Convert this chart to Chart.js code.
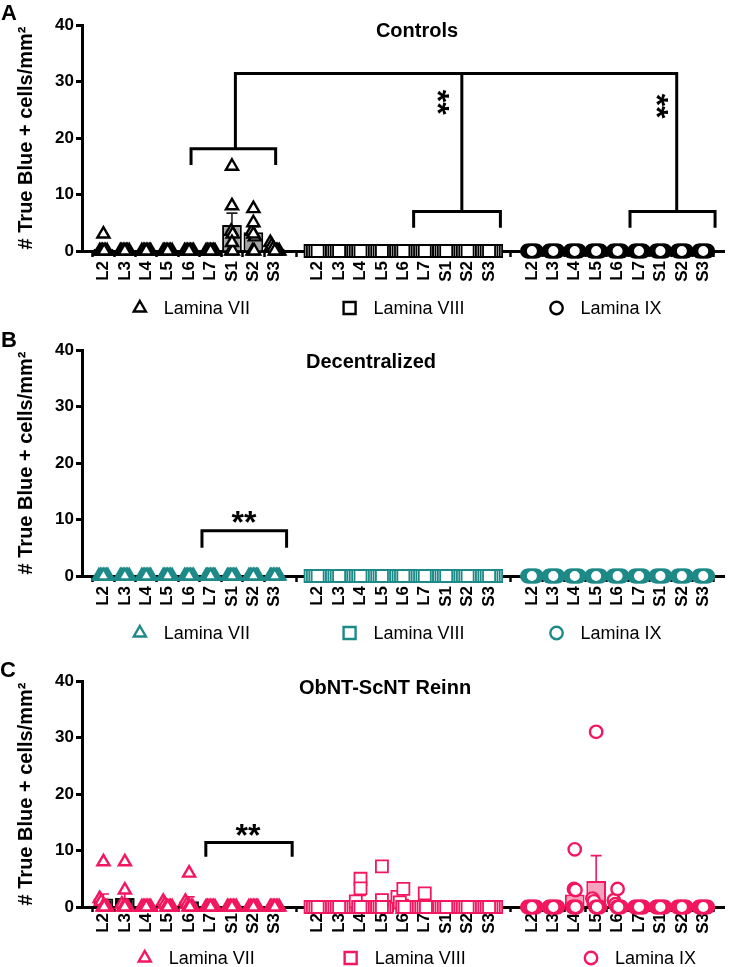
<!DOCTYPE html>
<html>
<head>
<meta charset="utf-8">
<script src="https://cdn.jsdelivr.net/npm/chart.js@4.4.1/dist/chart.umd.min.js"></script>
<style>
html,body{margin:0;padding:0;background:#fff;}
#wrap{position:relative;width:735px;height:967px;overflow:hidden;font-family:"Liberation Sans",Arial,sans-serif;}
canvas{position:absolute;left:0;}
.txt{position:absolute;font-weight:bold;color:#000;white-space:nowrap;line-height:1;transform:translate(-50%,-50%);}
</style>
</head>
<body>
<div id="wrap">
  <canvas id="cA" width="735" height="325" style="top:0px"></canvas>
  <canvas id="cB" width="735" height="331" style="top:325px"></canvas>
  <canvas id="cC" width="735" height="311" style="top:656px"></canvas>
</div>
<script>
// ---------------- DATA ----------------
const categories = ['L2','L3','L4','L5','L6','L7','S1','S2','S3'];
const laminae = ['Lamina VII','Lamina VIII','Lamina IX'];
const yTicks = [0,10,20,30,40];
const yTitle = '# True Blue + cells/mm\u00B2';
const panelTitles = ['Controls','Decentralized','ObNT-ScNT Reinn'];
const panelLetters = ['A','B','C'];

// Panel A – Controls (individual values per segment, bar means, SEM)
const ctrlVIIPoints = [
  [3,0,0,0,0,0,0],[0,0,0,0,0,0,0],[0,0,0,0,0,0,0],[0,0,0,0,0,0,0],[0,0,0,0,0,0,0],[0,0,0,0,0,0,0],
  [15,8,3.5,3,1.5,0,0],[7.5,5,3.5,3,2.5,0,0],[1.5,1,0.5,0,0,0,0]
];
const ctrlVIIMeans = [0.4,0,0,0,0,0,4.6,3.3,0.4];
const ctrlVIISem   = [0.4,0,0,0,0,0,2.1,1.0,0.2];
const ctrlVIIIPoints = [
  [0,0,0,0,0,0,0],[0,0,0,0,0,0,0],[0,0,0,0,0,0,0],[0,0,0,0,0,0,0],[0,0,0,0,0,0,0],[0,0,0,0,0,0,0],
  [0,0,0,0,0,0,0],[0,0,0,0,0,0,0],[0,0,0,0,0,0,0]
];
const ctrlVIIIMeans = [0,0,0,0,0,0,0,0,0];
const ctrlVIIISem   = [0,0,0,0,0,0,0,0,0];
const ctrlIXPoints = [
  [0,0,0,0,0,0,0],[0,0,0,0,0,0,0],[0,0,0,0,0,0,0],[0,0,0,0,0,0,0],[0,0,0,0,0,0,0],[0,0,0,0,0,0,0],
  [0,0,0,0,0,0,0],[0,0,0,0,0,0,0],[0,0,0,0,0,0,0]
];
const ctrlIXMeans = [0,0,0,0,0,0,0,0,0];
const ctrlIXSem   = [0,0,0,0,0,0,0,0,0];

// Panel B – Decentralized
const decVIIPoints = [
  [0,0,0,0,0,0,0],[0,0,0,0,0,0,0],[0,0,0,0,0,0,0],[0,0,0,0,0,0,0],[0,0,0,0,0,0,0],[0,0,0,0,0,0,0],
  [0,0,0,0,0,0,0],[0,0,0,0,0,0,0],[0,0,0,0,0,0,0]
];
const decVIIMeans = [0,0,0,0,0,0,0,0,0];
const decVIISem   = [0,0,0,0,0,0,0,0,0];
const decVIIIPoints = [
  [0,0,0,0,0,0,0],[0,0,0,0,0,0,0],[0,0,0,0,0,0,0],[0,0,0,0,0,0,0],[0,0,0,0,0,0,0],[0,0,0,0,0,0,0],
  [0,0,0,0,0,0,0],[0,0,0,0,0,0,0],[0,0,0,0,0,0,0]
];
const decVIIIMeans = [0,0,0,0,0,0,0,0,0];
const decVIIISem   = [0,0,0,0,0,0,0,0,0];
const decIXPoints = [
  [0,0,0,0,0,0,0],[0,0,0,0,0,0,0],[0,0,0,0,0,0,0],[0,0,0,0,0,0,0],[0,0,0,0,0,0,0],[0,0,0,0,0,0,0],
  [0,0,0,0,0,0,0],[0,0,0,0,0,0,0],[0,0,0,0,0,0,0]
];
const decIXMeans = [0,0,0,0,0,0,0,0,0];
const decIXSem   = [0,0,0,0,0,0,0,0,0];

// Panel C – ObNT-ScNT Reinn
const reinnVIIPoints = [
  [8,1.5,1,0,0,0,0],[8,3,0.5,0,0,0,0],[0,0,0,0,0,0,0],[1,0.5,0,0,0,0,0],[6,1,0.5,0,0,0,0],[0,0,0,0,0,0,0],
  [0,0,0,0,0,0,0],[0,0,0,0,0,0,0],[0,0,0,0,0,0,0]
];
const reinnVIIMeans = [1.5,1.6,0,0.2,1.0,0,0,0,0];
const reinnVIISem   = [0.8,1.1,0,0.15,0.8,0,0,0,0];
const reinnVIIIPoints = [
  [0,0,0,0,0,0,0],[0,0,0,0,0,0,0],[5,3.3,1,0,0,0,0],[7.2,1.2,0,0,0,0,0],[3.2,1.8,0.8,0,0,0,0],[2.4,0,0,0,0,0,0],
  [0,0,0,0,0,0,0],[0,0,0,0,0,0,0],[0,0,0,0,0,0,0]
];
const reinnVIIIMeans = [0,0,1.3,1.2,0.8,0.35,0,0,0];
const reinnVIIISem   = [0,0,0.75,1.0,0.5,0.35,0,0,0];
const reinnIXPoints = [
  [0,0,0,0,0,0,0],[0,0,0,0,0,0,0],[10.2,3.2,3,0,0,0,0],[31,1.5,1,0,0,0,0],[3.2,1.2,0.5,0,0,0,0],[0,0,0,0,0,0,0],
  [0,0,0,0,0,0,0],[0,0,0,0,0,0,0],[0,0,0,0,0,0,0]
];
const reinnIXMeans = [0,0,2.2,4.6,0.7,0,0,0,0];
const reinnIXSem   = [0,0,1.4,4.5,0.45,0,0,0,0];

// ---------------- STYLE / LAYOUT ----------------
const FONT = '"Liberation Sans", Arial, Helvetica, sans-serif';
Chart.defaults.font.family = FONT;
Chart.defaults.color = '#000';

const markerStyles = ['triangle','rect','circle'];
const markerRadii = [7, 8.5, 6.2];
const markerBorders = [2.4, 1.8, 2.4];
const markerSpread = [0.07, 0.11, 0.07];

const panels = [
  {
    canvas: 'cA', letter: panelLetters[0], title: panelTitles[0],
    top: 0, xh: 74, legendY: 308, legendX: [2.70, 12.49, 22.15],
    titlePos: [417, 30], letterPos: [9, 13],
    stroke: '#000000', barFill: ['#a4a4a4','#a4a4a4','#a4a4a4'], barBorder: ['#000','#000','#000'], err: '#222',
    series: [
      {points: ctrlVIIPoints, means: ctrlVIIMeans, sem: ctrlVIISem},
      {points: ctrlVIIIPoints, means: ctrlVIIIMeans, sem: ctrlVIIISem},
      {points: ctrlIXPoints, means: ctrlIXMeans, sem: ctrlIXSem}
    ],
    brackets: [
      [[5.09,15.2],[5.09,18.1],[9.04,18.1],[9.04,15.2]],
      [[7.16,18.1],[7.16,31.4],[27.76,31.4],[27.76,7.0]],
      [[17.73,31.4],[17.73,7.0]],
      [[15.48,4.1],[15.48,7.0],[19.53,7.0],[19.53,4.1]],
      [[25.58,4.1],[25.58,7.0],[29.55,7.0],[29.55,4.1]]
    ],
    stars: [{x:16.87, y:26.3, rot:Math.PI/2}, {x:27.07, y:25.6, rot:Math.PI/2}],
    tickPad: 4, tickLen: 6
  },
  {
    canvas: 'cB', letter: panelLetters[1], title: panelTitles[1],
    top: 325, xh: 80, legendY: 308, legendX: [2.70, 12.49, 22.15],
    titlePos: [371, 36], letterPos: [9, 15],
    stroke: '#1d8a88', barFill: ['#8cc9c7','#8cc9c7','#8cc9c7'], barBorder: ['#1d8a88','#1d8a88','#1d8a88'], err: '#1d8a88',
    series: [
      {points: decVIIPoints, means: decVIIMeans, sem: decVIISem},
      {points: decVIIIPoints, means: decVIIIMeans, sem: decVIIISem},
      {points: decIXPoints, means: decIXMeans, sem: decIXSem}
    ],
    brackets: [
      [[5.6,5.0],[5.6,8.0],[9.55,8.0],[9.55,5.0]]
    ],
    stars: [{x:7.57, y:10.4, rot:0}],
    tickPad: 4, tickLen: 6
  },
  {
    canvas: 'cC', letter: panelLetters[2], title: panelTitles[2],
    top: 656, xh: 60, legendY: 302, legendX: [2.93, 12.54, 23.76],
    titlePos: [385, 31], letterPos: [8, 14],
    stroke: '#f2175f', barFill: ['#111111','#f9b8cd','#f7a3bf'], barBorder: ['#111111','#f2175f','#f2175f'], err: '#f2175f',
    series: [
      {points: reinnVIIPoints, means: reinnVIIMeans, sem: reinnVIISem},
      {points: reinnVIIIPoints, means: reinnVIIIMeans, sem: reinnVIIISem},
      {points: reinnIXPoints, means: reinnIXMeans, sem: reinnIXSem}
    ],
    brackets: [
      [[5.78,8.9],[5.78,11.4],[9.81,11.4],[9.81,8.9]]
    ],
    stars: [{x:7.76, y:13.6, rot:0}],
    tickPad: 1, tickLen: 5
  }
];

// tick positions: three groups of segments separated by one empty slot
const tickValues = [];
laminae.forEach((_, g) => categories.forEach((_, i) => tickValues.push(g * 10 + 1 + i)));
function tickLabel(v) {
  const r = Math.round(v) % 10;
  return r === 0 ? '' : categories[r - 1];
}

// fan out overlapping markers horizontally (category units)
function spreadOffsets(values, step) {
  const order = values.map((v, i) => i).sort((a, b) => values[b] - values[a]);
  const off = new Array(values.length).fill(0);
  let cluster = [];
  const flush = () => {
    const m = cluster.length;
    cluster.forEach((k, j) => { off[k] = (j - (m - 1) / 2) * step; });
    cluster = [];
  };
  order.forEach(k => {
    if (cluster.length && values[cluster[cluster.length - 1]] - values[k] > 1.0) flush();
    cluster.push(k);
  });
  flush();
  return off;
}

function drawMarker(ctx, style, x, y, color) {
  ctx.save();
  ctx.lineWidth = 2.4; ctx.strokeStyle = color; ctx.fillStyle = '#fff';
  ctx.beginPath();
  if (style === 'triangle') {
    const r = 7;
    ctx.moveTo(x, y - r);
    ctx.lineTo(x + r * 0.866, y + r / 2);
    ctx.lineTo(x - r * 0.866, y + r / 2);
    ctx.closePath();
  } else if (style === 'rect') {
    ctx.rect(x - 6, y - 6, 12, 12);
  } else {
    ctx.arc(x, y, 6.2, 0, Math.PI * 2);
  }
  ctx.fill(); ctx.stroke();
  ctx.restore();
}

const errorBarPlugin = {
  id: 'errorBars',
  afterDatasetDraw(chart, args) {
    const ds = chart.data.datasets[args.index];
    if (!ds.sem) return;
    const ctx = chart.ctx, xs = chart.scales.x, ys = chart.scales.y;
    ctx.save();
    ctx.strokeStyle = ds.errColor; ctx.lineWidth = 1.6;
    ds.data.forEach((d, i) => {
      const s = ds.sem[i];
      if (!s) return;
      const px = xs.getPixelForValue(d.x);
      const y1 = ys.getPixelForValue(d.y), y2 = ys.getPixelForValue(d.y + s);
      ctx.beginPath();
      ctx.moveTo(px, y1); ctx.lineTo(px, y2);
      ctx.moveTo(px - 5.5, y2); ctx.lineTo(px + 5.5, y2);
      ctx.stroke();
    });
    ctx.restore();
  }
};

const annotPlugin = {
  id: 'annot',
  afterDraw(chart) {
    const p = chart.options.plugins.annot;
    const ctx = chart.ctx, xs = chart.scales.x, ys = chart.scales.y;
    ctx.save();
    ctx.strokeStyle = '#000'; ctx.lineWidth = 3; ctx.lineJoin = 'miter'; ctx.lineCap = 'butt';
    p.brackets.forEach(line => {
      ctx.beginPath();
      line.forEach((pt, k) => {
        const X = xs.getPixelForValue(pt[0]), Y = ys.getPixelForValue(pt[1]);
        if (k === 0) ctx.moveTo(X, Y); else ctx.lineTo(X, Y);
      });
      ctx.stroke();
    });
    p.stars.forEach(s => {
      ctx.save();
      ctx.font = 'bold 32px ' + FONT;
      ctx.fillStyle = '#000';
      ctx.textAlign = 'left'; ctx.textBaseline = 'alphabetic';
      const m = ctx.measureText('**');
      const cx = (m.actualBoundingBoxRight - m.actualBoundingBoxLeft) / 2;
      const cy = (m.actualBoundingBoxDescent - m.actualBoundingBoxAscent) / 2;
      ctx.translate(xs.getPixelForValue(s.x), ys.getPixelForValue(s.y));
      ctx.rotate(s.rot);
      ctx.fillText('**', -cx, -cy);
      ctx.restore();
    });
    p.legendX.forEach((lx, g) => {
      const X = xs.getPixelForValue(lx);
      drawMarker(ctx, markerStyles[g], X, p.legendY, p.stroke);
      ctx.fillStyle = '#000';
      ctx.font = '18px ' + FONT;
      ctx.textAlign = 'left'; ctx.textBaseline = 'middle';
      ctx.fillText(laminae[g], X + 24, p.legendY + 1);
    });
    ctx.restore();
  }
};

panels.forEach(P => {
  const datasets = [];
  P.series.forEach((s, g) => {
    const base = g * 10 + 1;
    datasets.push({
      type: 'bar', order: 3, grouped: false,
      data: s.means.map((m, i) => ({x: base + i, y: m})),
      backgroundColor: P.barFill[g], borderColor: P.barBorder[g], borderWidth: 2,
      barPercentage: 0.92, categoryPercentage: 1,
      sem: s.sem, errColor: P.err
    });
    const pts = [];
    s.points.forEach((vals, i) => {
      const off = spreadOffsets(vals, markerSpread[g]);
      // outer markers first, centre marker drawn last (on top)
      const idx = vals.map((v, k) => k).sort((a, b) => Math.abs(off[b]) - Math.abs(off[a]));
      idx.forEach(k => pts.push({x: base + i + off[k], y: vals[k]}));
    });
    datasets.push({
      type: 'scatter', order: 1, data: pts, clip: false,
      pointStyle: markerStyles[g], pointRadius: markerRadii[g], pointHoverRadius: markerRadii[g],
      pointBorderWidth: markerBorders[g], pointBackgroundColor: '#fff', pointBorderColor: P.stroke
    });
  });

  new Chart(document.getElementById(P.canvas), {
    type: 'bar',
    data: {datasets},
    plugins: [errorBarPlugin, annotPlugin],
    options: {
      responsive: false, animation: false,
      layout: {padding: {top: 25, left: 0, right: 0, bottom: 0}},
      plugins: {
        legend: {display: false}, tooltip: {enabled: false},
        annot: P
      },
      scales: {
        x: {
          type: 'linear', min: 0, max: 30, offset: false,
          afterBuildTicks: sc => { sc.ticks = tickValues.map(v => ({value: v})); },
          afterFit: sc => { sc.height = P.xh; sc.paddingLeft = 0; sc.paddingRight = 0; },
          border: {display: true, color: '#000', width: 3},
          grid: {display: true, drawOnChartArea: false, drawTicks: true, tickLength: P.tickLen, tickWidth: 2.5, tickColor: '#000'},
          ticks: {
            autoSkip: false, maxRotation: 90, minRotation: 90, padding: P.tickPad,
            color: '#000', font: {size: 17, weight: 'bold'},
            callback: v => tickLabel(v)
          }
        },
        y: {
          min: 0, max: 40,
          afterBuildTicks: sc => { sc.ticks = yTicks.map(v => ({value: v})); },
          afterFit: sc => { sc.width = 82; },
          border: {display: true, color: '#000', width: 3},
          grid: {display: true, drawOnChartArea: false, drawTicks: true, tickLength: 6, tickWidth: 3, tickColor: '#000'},
          ticks: {color: '#000', padding: 2, font: {size: 17, weight: 'bold'}},
          title: {display: true, text: yTitle, color: '#000', font: {size: 20, weight: 'bold'}, padding: {top: 14, bottom: 0}}
        }
      }
    }
  });

  const wrap = document.getElementById('wrap');
  const t = document.createElement('div');
  t.className = 'txt'; t.textContent = P.title;
  t.style.fontSize = '20px';
  t.style.left = P.titlePos[0] + 'px'; t.style.top = (P.top + P.titlePos[1]) + 'px';
  wrap.appendChild(t);
  const l = document.createElement('div');
  l.className = 'txt'; l.textContent = P.letter;
  l.style.fontSize = '22px';
  l.style.left = P.letterPos[0] + 'px'; l.style.top = (P.top + P.letterPos[1]) + 'px';
  wrap.appendChild(l);
});
</script>
</body>
</html>
